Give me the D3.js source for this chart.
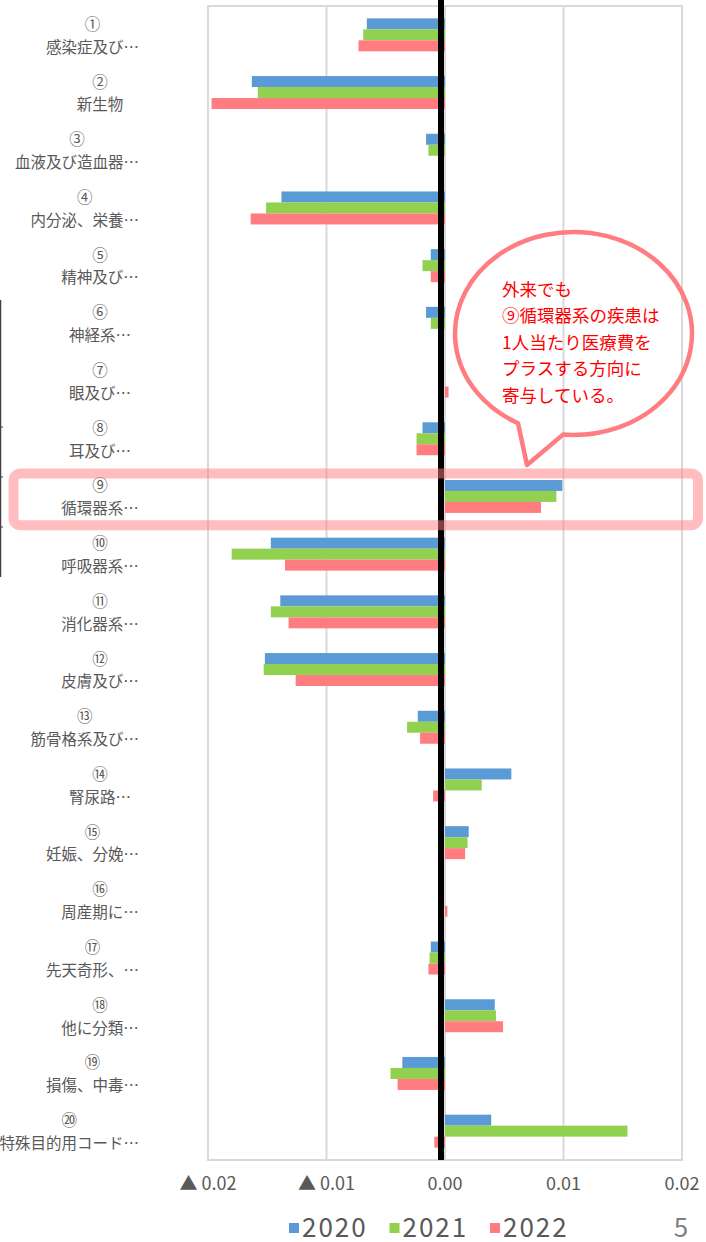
<!DOCTYPE html>
<html>
<head>
<meta charset="utf-8">
<script src="https://cdn.jsdelivr.net/npm/d3@7"></script>
<style>
  body { margin: 0; background: #fff; }
  text { font-family: "Noto Sans CJK JP", "Noto Sans", sans-serif; }
</style>
</head>
<body>
<div class="chart"></div>
<script>
// data
var nums = ["①","②","③","④","⑤","⑥","⑦","⑧","⑨","⑩","⑪","⑫","⑬","⑭","⑮","⑯","⑰","⑱","⑲","⑳"];
var categories = ["感染症及び…","新生物","血液及び造血器…","内分泌、栄養…","精神及び…","神経系…","眼及び…","耳及び…","循環器系…","呼吸器系…",
  "消化器系…","皮膚及び…","筋骨格系及び…","腎尿路…","妊娠、分娩…","周産期に…","先天奇形、…","他に分類…","損傷、中毒…","特殊目的用コード…"];
var years = ["2020", "2021", "2022"];
var v2020 = [-0.0066,-0.0163,-0.0016,-0.0138,-0.0012,-0.0016,0,-0.0019,0.0099,-0.0147,-0.0139,-0.0152,-0.0023,0.0056,0.0020,0,-0.0012,0.0042,-0.0036,0.0039];
var v2021 = [-0.0069,-0.0158,-0.0014,-0.0151,-0.0019,-0.0012,0,-0.0024,0.0094,-0.0180,-0.0147,-0.0153,-0.0032,0.0031,0.0019,0,-0.0013,0.0043,-0.0046,0.0154];
var v2022 = [-0.0073,-0.0197,0,-0.0164,-0.0012,0,0.0003,-0.0024,0.0081,-0.0135,-0.0132,-0.0126,-0.0021,-0.0010,0.0017,0.0002,-0.0014,0.0049,-0.0040,-0.0009];
var xTicks = [-0.02, -0.01, 0, 0.01, 0.02];
var tickLabels = ["▲ 0.02", "▲ 0.01", "0.00", "0.01", "0.02"];
var colors = ["#5B9BD5", "#92D050", "#FF7C80"];
var note = ["外来でも", "⑨循環器系の疾患は", "1人当たり医療費を", "プラスする方向に", "寄与している。"];

var series = [v2020, v2021, v2022];
var W = 706, H = 1242;
var plot = {left: 208, right: 682, top: 6, bottom: 1160};

var svg = d3.select(".chart").append("svg")
    .attr("width", W).attr("height", H);

var x = d3.scaleLinear().domain([-0.02, 0.02]).range([plot.left, plot.right]);
var y = d3.scaleBand().domain(d3.range(categories.length)).range([plot.top, plot.bottom]);
var bw = y.bandwidth(), gw = bw / 1.75;   // gap width 75%
var ySub = d3.scaleBand().domain(years).range([(bw - gw) / 2, (bw + gw) / 2]);

// gridlines + frame
svg.append("g").selectAll("line")
    .data(xTicks)
    .enter().append("line")
    .attr("x1", d => x(d)).attr("x2", d => x(d))
    .attr("y1", plot.top).attr("y2", plot.bottom)
    .attr("stroke", "#D9D9D9").attr("stroke-width", 2);
svg.append("rect")
    .attr("x", plot.left).attr("y", plot.top)
    .attr("width", plot.right - plot.left).attr("height", plot.bottom - plot.top)
    .attr("fill", "none").attr("stroke", "#D9D9D9").attr("stroke-width", 2);

// bars
series.forEach(function(vals, s) {
    svg.append("g").selectAll("rect")
        .data(vals)
        .enter().append("rect")
        .attr("x", d => Math.min(x(0), x(d)))
        .attr("y", (d, i) => y(i) + ySub(years[s]))
        .attr("width", d => Math.abs(x(d) - x(0)))
        .attr("height", ySub.bandwidth())
        .attr("fill", colors[s]);
});

// thick zero line
svg.append("line")
    .attr("x1", x(0) - 4).attr("x2", x(0) - 4)
    .attr("y1", 0).attr("y2", plot.bottom)
    .attr("stroke", "#000").attr("stroke-width", 6);

// x tick labels
svg.append("g").selectAll("text")
    .data(xTicks)
    .enter().append("text")
    .attr("x", d => x(d)).attr("y", 1182)
    .attr("text-anchor", "middle").attr("dominant-baseline", "central")
    .style("font-size", "18px").attr("fill", "#595959")
    .text((d, i) => tickLabels[i]);

// category labels: centred at 100, pushed left if they'd run past 139
var lab = svg.append("g");
categories.forEach(function(c, i) {
    var cy = y(i) + bw / 2;
    var name = lab.append("text")
        .attr("y", cy + 10.8).attr("dominant-baseline", "central")
        .attr("text-anchor", "middle")
        .style("font-size", "15.5px").attr("fill", "#595959")
        .text(c);
    var w = name.node().getComputedTextLength();
    var cx = Math.min(100, 139 - w / 2);
    name.attr("x", cx);
    lab.append("text")
        .attr("x", cx).attr("y", cy - 12)
        .attr("dominant-baseline", "central").attr("text-anchor", "middle")
        .style("font-size", "15.5px").attr("fill", "#595959")
        .text(nums[i]);
});

// highlight box round ⑨
var hi = y(8);
svg.append("rect")
    .attr("x", 13.5).attr("y", hi + 6)
    .attr("width", 684.5).attr("height", bw - 6)
    .attr("rx", 7)
    .attr("fill", "none").attr("stroke", "#FF7C80").attr("stroke-opacity", 0.5)
    .attr("stroke-width", 10);

// speech bubble
var ex = 573.5, ey = 333.5, rx = 118.5, ry = 101.5;
var b1x = 563, b2x = 518;
var b1y = ey + ry * Math.sqrt(1 - Math.pow((b1x - ex) / rx, 2));
var b2y = ey + ry * Math.sqrt(1 - Math.pow((b2x - ex) / rx, 2));
svg.append("path")
    .attr("d", "M" + b1x + "," + b1y + " A" + rx + "," + ry + " 0 1 0 " + b2x + "," + b2y + " L527,465 Z")
    .attr("fill", "none").attr("stroke", "#FF7C80").attr("stroke-width", 4.5)
    .attr("stroke-linejoin", "round");
svg.append("g").selectAll("text")
    .data(note)
    .enter().append("text")
    .attr("x", 502).attr("y", (d, i) => 288 + i * 26.5)
    .attr("dominant-baseline", "central")
    .style("font-size", "17.5px").attr("fill", "#FF0000")
    .text(d => d);

// legend
var leg = svg.append("g").selectAll("g")
    .data(years)
    .enter().append("g")
    .attr("transform", (d, i) => "translate(" + (289 + i * 100.5) + ",0)");
leg.append("rect").attr("x", 0).attr("y", 1223).attr("width", 10).attr("height", 10)
    .attr("fill", (d, i) => colors[i]);
leg.append("text").attr("x", 13).attr("y", 1225)
    .attr("dominant-baseline", "central")
    .style("font-size", "26px").style("letter-spacing", "2px").attr("fill", "#595959")
    .text(d => d);

// page number
svg.append("text").attr("x", 681).attr("y", 1225)
    .attr("text-anchor", "middle").attr("dominant-baseline", "central")
    .style("font-size", "26px").attr("fill", "#7F7F7F").text("5");

// stray edge of a neighbouring object on the slide
svg.append("line").attr("x1", 0.5).attr("x2", 0.5).attr("y1", 300).attr("y2", 577)
    .attr("stroke", "#404040").attr("stroke-width", 1.5);
svg.append("g").selectAll("line")
    .data([427, 477, 527])
    .enter().append("line")
    .attr("x1", 0).attr("x2", 3).attr("y1", d => d).attr("y2", d => d)
    .attr("stroke", "#404040").attr("stroke-width", 1);
</script>
</body>
</html>
